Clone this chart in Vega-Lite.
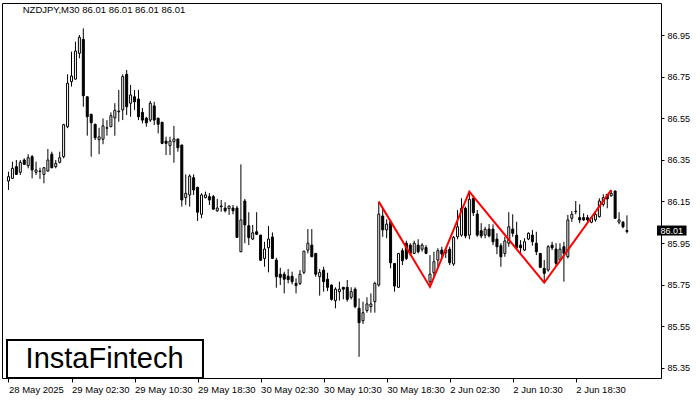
{
"$schema": "https://vega.github.io/schema/vega-lite/v6.json",
"width": 659, "height": 375,
"autosize": {"type": "none"},
"padding": {"left": 2, "top": 3, "right": 39, "bottom": 22},
"background": "white",
"config": {
  "view": {"stroke": "black", "strokeWidth": 1},
  "font": "Liberation Sans",
  "axis": {"grid": false, "domain": false, "title": null, "labelFont": "Liberation Sans", "labelFontSize": 9, "labelColor": "black", "tickColor": "black", "tickWidth": 1}
},
"datasets": {
  "candles": [
{"i":0,"o":86.248,"h":86.293,"l":86.205,"c":86.269},
{"i":1,"o":86.261,"h":86.341,"l":86.259,"c":86.309},
{"i":2,"o":86.317,"h":86.349,"l":86.277,"c":86.280},
{"i":3,"o":86.290,"h":86.349,"l":86.277,"c":86.338},
{"i":4,"o":86.349,"h":86.357,"l":86.325,"c":86.328},
{"i":5,"o":86.322,"h":86.377,"l":86.309,"c":86.360},
{"i":6,"o":86.365,"h":86.373,"l":86.261,"c":86.301},
{"i":7,"o":86.290,"h":86.341,"l":86.277,"c":86.301},
{"i":8,"o":86.296,"h":86.312,"l":86.258,"c":86.294},
{"i":9,"o":86.280,"h":86.315,"l":86.237,"c":86.312},
{"i":10,"o":86.296,"h":86.402,"l":86.293,"c":86.349},
{"i":11,"o":86.377,"h":86.389,"l":86.309,"c":86.312},
{"i":12,"o":86.317,"h":86.349,"l":86.309,"c":86.333},
{"i":13,"o":86.338,"h":86.389,"l":86.333,"c":86.360},
{"i":14,"o":86.365,"h":86.523,"l":86.357,"c":86.519},
{"i":15,"o":86.509,"h":86.761,"l":86.502,"c":86.718},
{"i":16,"o":86.726,"h":86.870,"l":86.702,"c":86.753},
{"i":17,"o":86.738,"h":86.918,"l":86.736,"c":86.873},
{"i":18,"o":86.862,"h":86.950,"l":86.838,"c":86.939},
{"i":19,"o":86.929,"h":86.982,"l":86.605,"c":86.658},
{"i":20,"o":86.653,"h":86.655,"l":86.466,"c":86.557},
{"i":21,"o":86.569,"h":86.571,"l":86.365,"c":86.528},
{"i":22,"o":86.521,"h":86.523,"l":86.445,"c":86.456},
{"i":23,"o":86.447,"h":86.504,"l":86.377,"c":86.460},
{"i":24,"o":86.449,"h":86.549,"l":86.425,"c":86.513},
{"i":25,"o":86.502,"h":86.541,"l":86.466,"c":86.504},
{"i":26,"o":86.509,"h":86.578,"l":86.507,"c":86.562},
{"i":27,"o":86.552,"h":86.622,"l":86.466,"c":86.588},
{"i":28,"o":86.581,"h":86.686,"l":86.533,"c":86.584},
{"i":29,"o":86.590,"h":86.761,"l":86.541,"c":86.750},
{"i":30,"o":86.761,"h":86.782,"l":86.565,"c":86.605},
{"i":31,"o":86.622,"h":86.710,"l":86.557,"c":86.662},
{"i":32,"o":86.653,"h":86.686,"l":86.590,"c":86.629},
{"i":33,"o":86.642,"h":86.686,"l":86.541,"c":86.557},
{"i":34,"o":86.578,"h":86.599,"l":86.525,"c":86.541},
{"i":35,"o":86.550,"h":86.557,"l":86.509,"c":86.528},
{"i":36,"o":86.541,"h":86.633,"l":86.532,"c":86.622},
{"i":37,"o":86.609,"h":86.629,"l":86.517,"c":86.541},
{"i":38,"o":86.550,"h":86.552,"l":86.477,"c":86.521},
{"i":39,"o":86.530,"h":86.533,"l":86.425,"c":86.429},
{"i":40,"o":86.440,"h":86.461,"l":86.373,"c":86.429},
{"i":41,"o":86.418,"h":86.461,"l":86.373,"c":86.440},
{"i":42,"o":86.437,"h":86.513,"l":86.336,"c":86.450},
{"i":43,"o":86.450,"h":86.452,"l":86.389,"c":86.408},
{"i":44,"o":86.421,"h":86.423,"l":86.125,"c":86.157},
{"i":45,"o":86.168,"h":86.280,"l":86.133,"c":86.189},
{"i":46,"o":86.181,"h":86.280,"l":86.125,"c":86.272},
{"i":47,"o":86.264,"h":86.280,"l":86.181,"c":86.205},
{"i":48,"o":86.218,"h":86.220,"l":86.056,"c":86.098},
{"i":49,"o":86.088,"h":86.189,"l":86.069,"c":86.181},
{"i":50,"o":86.168,"h":86.197,"l":86.165,"c":86.181},
{"i":51,"o":86.173,"h":86.190,"l":86.133,"c":86.157},
{"i":52,"o":86.173,"h":86.181,"l":86.109,"c":86.113},
{"i":53,"o":86.105,"h":86.162,"l":86.100,"c":86.118},
{"i":54,"o":86.128,"h":86.157,"l":86.100,"c":86.125},
{"i":55,"o":86.118,"h":86.146,"l":86.097,"c":86.105},
{"i":56,"o":86.115,"h":86.130,"l":86.085,"c":86.128},
{"i":57,"o":86.118,"h":86.133,"l":86.088,"c":86.105},
{"i":58,"o":86.118,"h":86.129,"l":85.975,"c":85.977},
{"i":59,"o":85.908,"h":86.328,"l":85.906,"c":86.061},
{"i":60,"o":86.152,"h":86.162,"l":85.949,"c":86.037},
{"i":61,"o":86.033,"h":86.098,"l":85.940,"c":85.976},
{"i":62,"o":85.969,"h":86.037,"l":85.964,"c":85.999},
{"i":63,"o":86.004,"h":86.098,"l":85.988,"c":85.992},
{"i":64,"o":85.988,"h":85.990,"l":85.865,"c":85.867},
{"i":65,"o":85.876,"h":85.956,"l":85.836,"c":85.921},
{"i":66,"o":85.927,"h":86.032,"l":85.809,"c":85.969},
{"i":67,"o":85.979,"h":86.001,"l":85.873,"c":85.876},
{"i":68,"o":85.868,"h":85.879,"l":85.735,"c":85.788},
{"i":69,"o":85.800,"h":85.831,"l":85.748,"c":85.785},
{"i":70,"o":85.800,"h":85.812,"l":85.708,"c":85.776},
{"i":71,"o":85.790,"h":85.825,"l":85.756,"c":85.774},
{"i":72,"o":85.790,"h":85.812,"l":85.751,"c":85.764},
{"i":73,"o":85.756,"h":85.780,"l":85.708,"c":85.745},
{"i":74,"o":85.756,"h":85.820,"l":85.748,"c":85.800},
{"i":75,"o":85.809,"h":85.912,"l":85.800,"c":85.911},
{"i":76,"o":85.916,"h":86.017,"l":85.900,"c":85.949},
{"i":77,"o":85.940,"h":86.017,"l":85.882,"c":85.884},
{"i":78,"o":85.900,"h":85.902,"l":85.788,"c":85.800},
{"i":79,"o":85.788,"h":85.825,"l":85.697,"c":85.809},
{"i":80,"o":85.820,"h":85.836,"l":85.716,"c":85.764},
{"i":81,"o":85.776,"h":85.807,"l":85.719,"c":85.737},
{"i":82,"o":85.748,"h":85.750,"l":85.673,"c":85.679},
{"i":83,"o":85.673,"h":85.737,"l":85.636,"c":85.728},
{"i":84,"o":85.716,"h":85.764,"l":85.673,"c":85.728},
{"i":85,"o":85.737,"h":85.739,"l":85.679,"c":85.728},
{"i":86,"o":85.737,"h":85.772,"l":85.668,"c":85.679},
{"i":87,"o":85.689,"h":85.737,"l":85.679,"c":85.716},
{"i":88,"o":85.728,"h":85.737,"l":85.636,"c":85.644},
{"i":89,"o":85.636,"h":85.684,"l":85.403,"c":85.567},
{"i":90,"o":85.576,"h":85.668,"l":85.561,"c":85.615},
{"i":91,"o":85.625,"h":85.689,"l":85.615,"c":85.657},
{"i":92,"o":85.644,"h":85.708,"l":85.615,"c":85.657},
{"i":93,"o":85.668,"h":85.764,"l":85.615,"c":85.756},
{"i":94,"o":85.748,"h":86.149,"l":85.740,"c":86.089},
{"i":95,"o":86.080,"h":86.117,"l":85.980,"c":86.013},
{"i":96,"o":86.013,"h":86.064,"l":85.973,"c":86.041},
{"i":97,"o":86.052,"h":86.061,"l":85.828,"c":85.855},
{"i":98,"o":85.852,"h":85.853,"l":85.716,"c":85.743},
{"i":99,"o":85.737,"h":85.902,"l":85.735,"c":85.900},
{"i":100,"o":85.913,"h":85.925,"l":85.844,"c":85.865},
{"i":101,"o":85.949,"h":85.961,"l":85.868,"c":85.876},
{"i":102,"o":85.940,"h":85.949,"l":85.888,"c":85.900},
{"i":103,"o":85.900,"h":85.961,"l":85.897,"c":85.949},
{"i":104,"o":85.940,"h":85.968,"l":85.900,"c":85.908},
{"i":105,"o":85.920,"h":85.949,"l":85.908,"c":85.940},
{"i":106,"o":85.928,"h":85.940,"l":85.897,"c":85.900},
{"i":107,"o":85.764,"h":85.892,"l":85.739,"c":85.801},
{"i":108,"o":85.807,"h":85.908,"l":85.788,"c":85.860},
{"i":109,"o":85.868,"h":85.925,"l":85.828,"c":85.913},
{"i":110,"o":85.916,"h":85.932,"l":85.876,"c":85.897},
{"i":111,"o":85.903,"h":85.916,"l":85.878,"c":85.916},
{"i":112,"o":85.920,"h":85.932,"l":85.844,"c":85.855},
{"i":113,"o":85.849,"h":85.984,"l":85.840,"c":85.977},
{"i":114,"o":85.980,"h":86.109,"l":85.968,"c":86.028},
{"i":115,"o":85.988,"h":86.165,"l":85.980,"c":86.117},
{"i":116,"o":86.117,"h":86.125,"l":85.973,"c":85.984},
{"i":117,"o":85.988,"h":86.197,"l":85.968,"c":86.160},
{"i":118,"o":86.165,"h":86.176,"l":86.080,"c":86.096},
{"i":119,"o":86.089,"h":86.109,"l":85.980,"c":85.988},
{"i":120,"o":86.009,"h":86.045,"l":85.973,"c":85.984},
{"i":121,"o":85.988,"h":86.028,"l":85.973,"c":86.016},
{"i":122,"o":86.017,"h":86.041,"l":85.977,"c":85.984},
{"i":123,"o":86.017,"h":86.040,"l":85.940,"c":85.956},
{"i":124,"o":85.969,"h":85.997,"l":85.896,"c":85.932},
{"i":125,"o":85.937,"h":85.949,"l":85.836,"c":85.884},
{"i":126,"o":85.900,"h":85.980,"l":85.884,"c":85.960},
{"i":127,"o":85.949,"h":86.098,"l":85.932,"c":86.028},
{"i":128,"o":86.017,"h":86.088,"l":85.980,"c":85.997},
{"i":129,"o":85.988,"h":86.052,"l":85.921,"c":85.927},
{"i":130,"o":85.940,"h":85.964,"l":85.900,"c":85.927},
{"i":131,"o":85.916,"h":85.973,"l":85.911,"c":85.956},
{"i":132,"o":85.969,"h":86.001,"l":85.964,"c":85.997},
{"i":133,"o":85.988,"h":86.013,"l":85.937,"c":85.956},
{"i":134,"o":85.949,"h":86.004,"l":85.892,"c":85.908},
{"i":135,"o":85.900,"h":85.902,"l":85.831,"c":85.833},
{"i":136,"o":85.828,"h":85.868,"l":85.759,"c":85.804},
{"i":137,"o":85.820,"h":85.940,"l":85.812,"c":85.932},
{"i":138,"o":85.940,"h":85.956,"l":85.916,"c":85.927},
{"i":139,"o":85.921,"h":85.949,"l":85.841,"c":85.852},
{"i":140,"o":85.868,"h":85.949,"l":85.864,"c":85.921},
{"i":141,"o":85.932,"h":85.956,"l":85.764,"c":85.900},
{"i":142,"o":85.884,"h":86.085,"l":85.876,"c":86.061},
{"i":143,"o":86.069,"h":86.104,"l":86.052,"c":86.088},
{"i":144,"o":86.101,"h":86.152,"l":86.088,"c":86.103},
{"i":145,"o":86.072,"h":86.136,"l":86.045,"c":86.061},
{"i":146,"o":86.072,"h":86.093,"l":86.056,"c":86.061},
{"i":147,"o":86.072,"h":86.085,"l":86.052,"c":86.061},
{"i":148,"o":86.050,"h":86.073,"l":86.045,"c":86.072},
{"i":149,"o":86.061,"h":86.104,"l":86.052,"c":86.088},
{"i":150,"o":86.077,"h":86.165,"l":86.072,"c":86.152},
{"i":151,"o":86.136,"h":86.184,"l":86.125,"c":86.168},
{"i":152,"o":86.184,"h":86.186,"l":86.117,"c":86.162},
{"i":153,"o":86.177,"h":86.205,"l":86.173,"c":86.189},
{"i":154,"o":86.200,"h":86.202,"l":86.067,"c":86.069},
{"i":155,"o":86.050,"h":86.098,"l":86.040,"c":86.061},
{"i":156,"o":86.050,"h":86.056,"l":86.021,"c":86.028},
{"i":157,"o":86.005,"h":86.083,"l":85.996,"c":86.010}
  ],
  "pattern": [
    {"i":94,"p":86.149},{"i":107,"p":85.739},{"i":117,"p":86.197},{"i":136,"p":85.759},{"i":153,"p":86.205}
  ],
  "last": [{"x1":164.625,"x2":172.125,"xt":165.5,"p":86.01,"top":86.034,"bot":85.986,"label":"86.01"}],
  "header": [{"x":3.625,"p":87.07,"label":"NZDJPY,M30  86.01 86.01 86.01 86.01"}],
  "logo": [{"x1":-0.375,"x2":49.375,"y1":85.301,"y2":85.4837,"xt":24.4,"yt":85.392,"label":"InstaFintech"}]
},
"layer": [
  {
    "mark": {"type": "rule", "color": "black", "strokeWidth": 1},
    "encoding": {"y": {"datum": 86.01, "type": "quantitative", "scale": {"domain": [85.301, 87.1039], "nice": false, "zero": false}}}
  },
  {
    "data": {"name": "candles"},
    "mark": {"type": "rule", "color": "black", "strokeWidth": 1},
    "encoding": {
      "x": {"field": "i", "type": "quantitative", "scale": {"domain": [-0.375, 164.375], "nice": false, "zero": false},
            "axis": {"values": [0,16,32,48,64,80,96,112,128,144], "labelExpr": "['28 May 2025','29 May 02:30','29 May 10:30','29 May 18:30','30 May 02:30','30 May 10:30','30 May 18:30','2 Jun 02:30','2 Jun 10:30','2 Jun 18:30'][round(datum.value/16)]", "labelAlign": "left", "labelBaseline": "top", "labelFlush": false, "labelBound": false, "labelOverlap": false, "labelFontSize": 9.5, "tickSize": 4, "labelPadding": 2, "labelDx": -1}},
      "y": {"field": "l", "type": "quantitative", "scale": {"domain": [85.301, 87.1039], "nice": false, "zero": false},
            "axis": {"orient": "right", "values": [85.35,85.55,85.75,85.95,86.15,86.35,86.55,86.75,86.95], "format": ".2f", "tickSize": 3, "labelPadding": 3, "labelBaseline": "middle", "labelFlush": false, "labelBound": false, "labelOverlap": false}},
      "y2": {"field": "h"}
    }
  },
  {
    "data": {"name": "candles"},
    "mark": {"type": "bar", "width": 2, "stroke": "black", "strokeWidth": 1},
    "encoding": {
      "x": {"field": "i", "type": "quantitative"},
      "y": {"field": "o", "type": "quantitative"},
      "y2": {"field": "c"},
      "fill": {"condition": {"test": "datum.c >= datum.o", "value": "white"}, "value": "black"}
    }
  },
  {
    "data": {"name": "pattern"},
    "mark": {"type": "line", "color": "#ff0000", "strokeWidth": 2},
    "encoding": {
      "x": {"field": "i", "type": "quantitative"},
      "y": {"field": "p", "type": "quantitative"}
    }
  },
  {
    "data": {"name": "last"},
    "mark": {"type": "rect", "fill": "black", "clip": false},
    "encoding": {
      "x": {"field": "x1", "type": "quantitative"},
      "x2": {"field": "x2"},
      "y": {"field": "top", "type": "quantitative"},
      "y2": {"field": "bot"}
    }
  },
  {
    "data": {"name": "last"},
    "mark": {"type": "text", "color": "white", "align": "left", "baseline": "middle", "font": "Liberation Sans", "fontSize": 9, "clip": false},
    "encoding": {
      "x": {"field": "xt", "type": "quantitative"},
      "y": {"field": "p", "type": "quantitative"},
      "text": {"field": "label"}
    }
  },
  {
    "data": {"name": "header"},
    "mark": {"type": "text", "color": "black", "align": "left", "baseline": "middle", "font": "Liberation Sans", "fontSize": 9.5},
    "encoding": {
      "x": {"field": "x", "type": "quantitative"},
      "y": {"field": "p", "type": "quantitative"},
      "text": {"field": "label"}
    }
  },
  {
    "data": {"name": "logo"},
    "mark": {"type": "rect", "fill": "white", "stroke": "black", "strokeWidth": 2},
    "encoding": {
      "x": {"field": "x1", "type": "quantitative"},
      "x2": {"field": "x2"},
      "y": {"field": "y1", "type": "quantitative"},
      "y2": {"field": "y2"}
    }
  },
  {
    "data": {"name": "logo"},
    "mark": {"type": "text", "color": "black", "align": "center", "baseline": "middle", "font": "Liberation Sans", "fontSize": 29},
    "encoding": {
      "x": {"field": "xt", "type": "quantitative"},
      "y": {"field": "yt", "type": "quantitative"},
      "text": {"field": "label"}
    }
  }
]
}
